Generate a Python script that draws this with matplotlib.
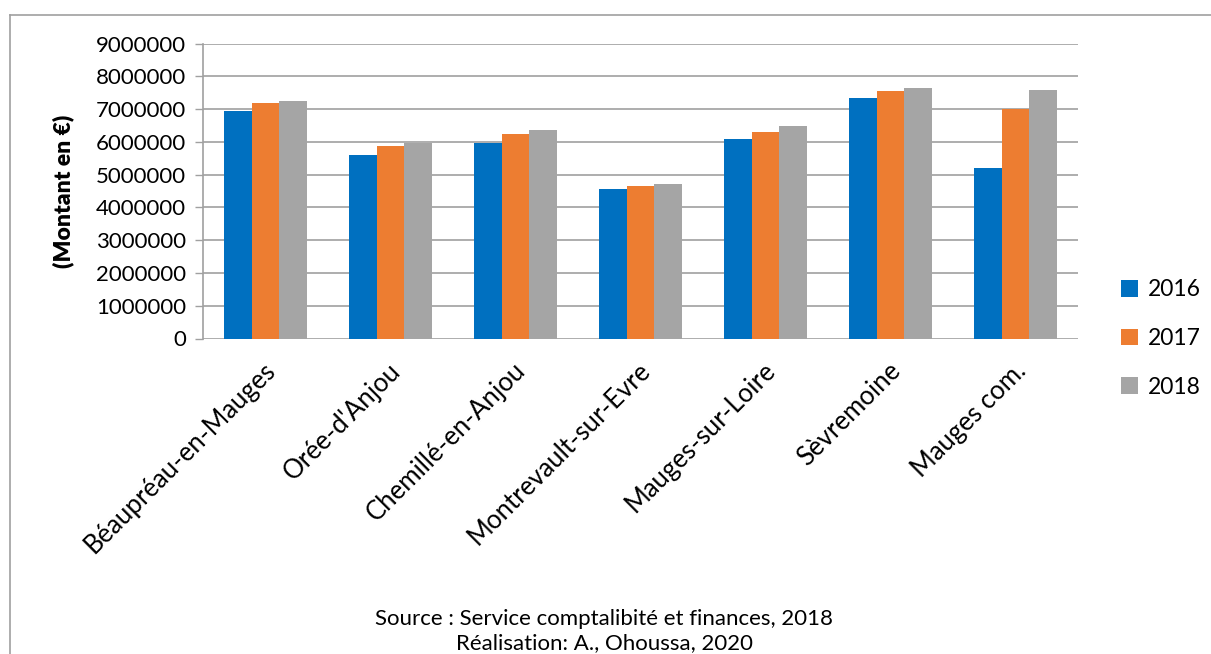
import matplotlib
matplotlib.use('Agg')
import matplotlib.pyplot as plt
from matplotlib.lines import Line2D
import numpy as np

plt.rcParams['font.family'] = ['Lato', 'DejaVu Sans']

# Data
communes = ['Béaupréau-en-Mauges', "Orée-d'Anjou", 'Chemillé-en-Anjou',
            'Montrevault-sur-Evre', 'Mauges-sur-Loire', 'Sèvremoine', 'Mauges com.']
years = ['2016', '2017', '2018']
v2016 = [6950000, 5600000, 5950000, 4560000, 6100000, 7340000, 5200000]
v2017 = [7180000, 5860000, 6230000, 4660000, 6310000, 7550000, 7010000]
v2018 = [7240000, 5950000, 6360000, 4720000, 6480000, 7640000, 7580000]
yticks = list(range(0, 9000001, 1000000))

colors = ['#0070C0', '#ED7D31', '#A5A5A5']
grid_col = '#a0a0a0'

fig = plt.figure(figsize=(12.11, 6.54), dpi=100)
ax = fig.add_axes([203 / 1211, 1 - 338.5 / 654, 875 / 1211, 295 / 654])

x = np.arange(len(communes))
w = 0.22
for i, (vals, yr) in enumerate(zip([v2016, v2017, v2018], years)):
    ax.bar(x + (i - 1) * w, vals, width=w, color=colors[i], label=yr, zorder=3)

ax.set_xlim(-0.5, len(communes) - 0.5)
ax.set_ylim(0, 9000000)
ax.set_yticks(yticks)
ax.set_yticklabels([str(t) for t in yticks], fontsize=16)
ax.yaxis.grid(True, color=grid_col, linewidth=1.2, zorder=0)
ax.set_axisbelow(True)

for s in ['top', 'right', 'bottom']:
    ax.spines[s].set_visible(False)
ax.spines['left'].set_color(grid_col)
ax.spines['left'].set_linewidth(1.2)
ax.tick_params(axis='y', length=6, color=grid_col, width=1, pad=6)
ax.tick_params(axis='x', length=0, pad=14)

ax.set_xticks(x - 0.02)
ax.set_xticklabels(communes, rotation=45, ha='right', rotation_mode='anchor', fontsize=18.5)

ax.set_ylabel('(Montant en €)', fontsize=16.5, fontweight='heavy')
ax.yaxis.set_label_coords(-(203 - 74) / 875, 0.5)

ax.legend(loc='center left', bbox_to_anchor=(1.025, 0.0), frameon=False,
          fontsize=16.5, handlelength=0.75, handleheight=0.75, handletextpad=0.45,
          labelspacing=1.2)

fig.text(0.499, 1 - 619 / 654, 'Source : Service comptalibité et finances, 2018',
         ha='center', va='center', fontsize=16)
fig.text(0.499, 1 - 643 / 654, 'Réalisation: A., Ohoussa, 2020',
         ha='center', va='center', fontsize=16)

# outer frame of the chart area
fig.add_artist(Line2D([10 / 1211, 10 / 1211], [0, 1 - 14.5 / 654], color=grid_col, lw=1.2))
fig.add_artist(Line2D([10 / 1211, 1], [1 - 14.5 / 654, 1 - 14.5 / 654], color=grid_col, lw=1.2))

fig.savefig('out.png', dpi=100)
